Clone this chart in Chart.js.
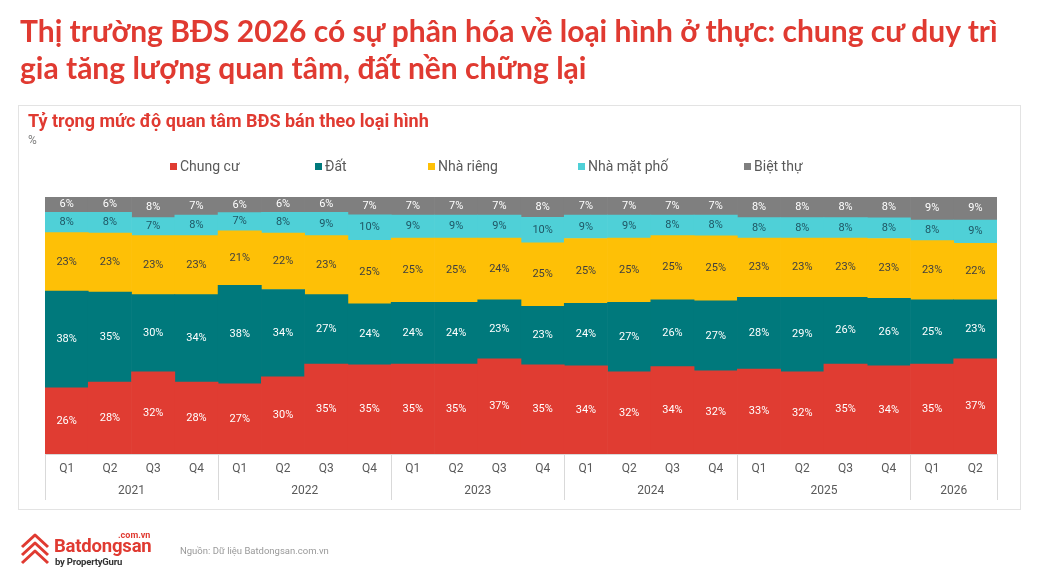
<!DOCTYPE html>
<html lang="vi">
<head>
<meta charset="utf-8">
<title>Tỷ trọng mức độ quan tâm BĐS bán theo loại hình</title>
<script src="https://cdn.jsdelivr.net/npm/chart.js@4.4.1/dist/chart.umd.min.js"></script>
<style>
  html, body { margin: 0; padding: 0; background: #fff; }
  #page { position: relative; width: 1047px; height: 573px; overflow: hidden; font-family: Roboto, "Noto Sans", sans-serif; }
  #page canvas { position: absolute; left: 0; top: 0; }
  .abs { position: absolute; white-space: nowrap; }
  #title { left: 20px; top: 12px; font-family: Lato, "Open Sans", sans-serif; font-weight: 700; font-size: 30px; line-height: 37px; color: #e03a31; }
  #box { left: 18px; top: 105px; width: 1003px; height: 405px; border: 1.5px solid #e3e3e3; box-sizing: border-box; }
  #subtitle { left: 28px; top: 110px; font-weight: 700; font-size: 18px; color: #e03a31; }
  #unit { left: 28px; top: 133px; font-size: 12px; color: #7f7f7f; }
  .leg { top: 158px; font-size: 14px; color: #595959; }
  .leg i { display: inline-block; width: 7px; height: 7px; margin-right: 3px; vertical-align: 1px; }
  #logo { left: 18px; top: 530px; }
  #brand { left: 54px; top: 535px; font-weight: 700; font-size: 18.5px; color: #e03a31; letter-spacing: -0.2px; }
  #dot { left: 118px; top: 530px; font-weight: 700; font-size: 9px; color: #e03a31; }
  #by { left: 55px; top: 556px; font-weight: 700; font-size: 9.5px; color: #333; letter-spacing: -0.2px; }
  #source { left: 180px; top: 545px; font-size: 9.5px; color: #999; }
</style>
</head>
<body>
<div id="page">
  <canvas id="chart" width="1047" height="573"></canvas>
  <div class="abs" id="box"></div>
  <div class="abs" id="title">Thị trường BĐS 2026 có sự phân hóa về loại hình ở thực: chung cư duy trì<br>gia tăng lượng quan tâm, đất nền chững lại</div>
  <div class="abs" id="subtitle">Tỷ trọng mức độ quan tâm BĐS bán theo loại hình</div>
  <div class="abs" id="unit">%</div>
  <div id="legend"></div>
  <svg class="abs" id="logo" width="34" height="38" viewBox="0 0 34 38">
    <g fill="none" stroke="#e03a31" stroke-width="3" stroke-linejoin="round">
      <polyline points="4,17 17,5 30,17" />
      <polyline points="4,25 17,13 30,25" />
      <polyline points="4,33 17,21 30,33" />
    </g>
  </svg>
  <div class="abs" id="dot">.com.vn</div>
  <div class="abs" id="brand">Batdongsan</div>
  <div class="abs" id="by">by PropertyGuru</div>
  <div class="abs" id="source">Nguồn: Dữ liệu Batdongsan.com.vn</div>
</div>
<script>
// Quý và năm tương ứng
const quarters = ['Q1','Q2','Q3','Q4','Q1','Q2','Q3','Q4','Q1','Q2','Q3','Q4',
                  'Q1','Q2','Q3','Q4','Q1','Q2','Q3','Q4','Q1','Q2'];
const years = ['2021','2021','2021','2021','2022','2022','2022','2022','2023','2023','2023','2023',
               '2024','2024','2024','2024','2025','2025','2025','2025','2026','2026'];

// Tỷ trọng (%) theo loại hình
const chungCu   = [26,28,32,28,27,30,35,35,35,35,37,35,34,32,34,32,33,32,35,34,35,37];
const dat       = [38,35,30,34,38,34,27,24,24,24,23,23,24,27,26,27,28,29,26,26,25,23];
const nhaRieng  = [23,23,23,23,21,22,23,25,25,25,24,25,25,25,25,25,23,23,23,23,23,22];
const nhaMatPho = [8,8,7,8,7,8,9,10,9,9,9,10,9,9,8,8,8,8,8,8,8,9];
const bietThu   = [6,6,8,7,6,6,6,7,7,7,7,8,7,7,7,7,8,8,8,8,9,9];

const seriesNames  = ['Chung cư', 'Đất', 'Nhà riêng', 'Nhà mặt phố', 'Biệt thự'];
const seriesValues = [chungCu, dat, nhaRieng, nhaMatPho, bietThu];
const seriesColors = ['#e03c32', '#00797c', '#fec006', '#4fd0d7', '#7f7f7f'];
const labelColors  = ['#ffffff', '#ffffff', '#404040', '#1f5664', '#ffffff'];
const legendLeft   = [170, 315, 428, 578, 744];

// Chuẩn hóa mỗi quý về tổng 100 để cột luôn đầy
const totals = quarters.map((q, i) => seriesValues.reduce((s, arr) => s + arr[i], 0));

// Chú giải
const legendEl = document.getElementById('legend');
seriesNames.forEach((name, k) => {
    const d = document.createElement('div');
    d.className = 'abs leg';
    d.style.left = legendLeft[k] + 'px';
    d.innerHTML = '<i style="background:' + seriesColors[k] + '"></i>' + name;
    legendEl.appendChild(d);
});

// Nhãn giá trị trong mỗi đoạn cột
const valueLabels = {
    id: 'valueLabels',
    afterDatasetsDraw(chart) {
        const ctx = chart.ctx;
        ctx.save();
        ctx.font = '11px Roboto, sans-serif';
        ctx.textAlign = 'center';
        ctx.textBaseline = 'middle';
        chart.data.datasets.forEach((ds, k) => {
            chart.getDatasetMeta(k).data.forEach((bar, i) => {
                ctx.fillStyle = labelColors[k];
                ctx.fillText(seriesValues[k][i] + '%', bar.x, (bar.y + bar.base) / 2);
            });
        });
        ctx.restore();
    }
};

// Trục hoành hai tầng: quý và năm
const twoLevelAxis = {
    id: 'twoLevelAxis',
    afterDraw(chart) {
        const ctx = chart.ctx;
        const x = chart.scales.x;
        const area = chart.chartArea;
        const step = x.width / quarters.length;
        ctx.save();
        ctx.strokeStyle = '#d9d9d9';
        ctx.lineWidth = 1;
        ctx.beginPath();
        ctx.moveTo(area.left, area.bottom + 0.5);
        ctx.lineTo(area.right, area.bottom + 0.5);
        ctx.stroke();

        ctx.font = '12px Roboto, sans-serif';
        ctx.fillStyle = '#595959';
        ctx.textAlign = 'center';
        ctx.textBaseline = 'middle';
        quarters.forEach((q, i) => {
            ctx.fillText(q, x.getPixelForValue(i), area.bottom + 15);
        });

        let start = 0;
        for (let i = 1; i <= years.length; i++) {
            if (i === years.length || years[i] !== years[start]) {
                const left = x.getPixelForValue(start) - step / 2;
                const right = x.getPixelForValue(i - 1) + step / 2;
                ctx.fillText(years[start], (left + right) / 2, area.bottom + 37);
                [left, right].forEach(px => {
                    ctx.beginPath();
                    ctx.moveTo(Math.round(px) + 0.5, area.bottom);
                    ctx.lineTo(Math.round(px) + 0.5, area.bottom + 46);
                    ctx.stroke();
                });
                start = i;
            }
        }
        ctx.restore();
    }
};

new Chart(document.getElementById('chart'), {
    type: 'bar',
    data: {
        labels: quarters,
        datasets: seriesNames.map((name, k) => ({
            label: name,
            data: seriesValues[k].map((v, i) => v / totals[i] * 100),
            backgroundColor: seriesColors[k],
            borderWidth: 0,
            barPercentage: 1,
            categoryPercentage: 1
        }))
    },
    options: {
        responsive: false,
        animation: false,
        layout: { padding: { left: 45, right: 50, top: 197, bottom: 119 } },
        plugins: { legend: { display: false }, tooltip: { enabled: false } },
        scales: {
            x: { stacked: true, display: false },
            y: { stacked: true, display: false, min: 0, max: 100 }
        }
    },
    plugins: [valueLabels, twoLevelAxis]
});
</script>
</body>
</html>
